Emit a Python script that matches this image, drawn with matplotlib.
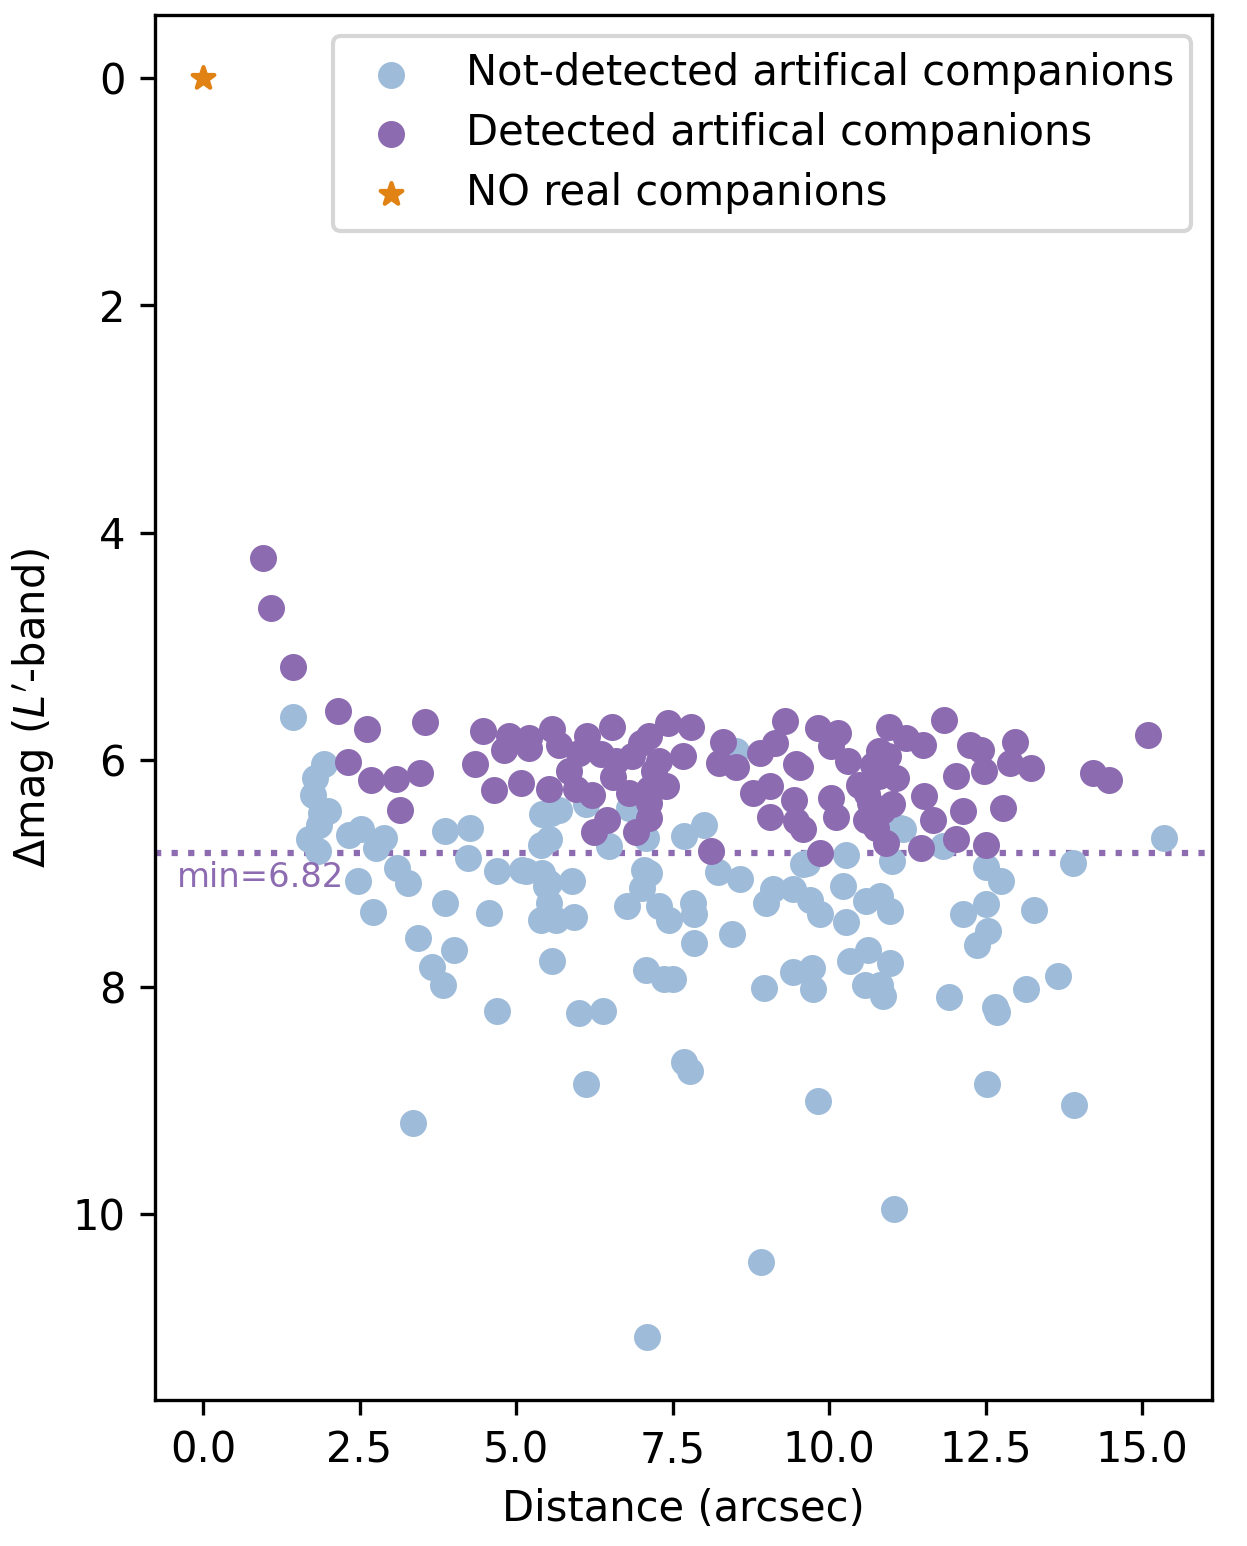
import matplotlib
matplotlib.use("Agg")
import matplotlib.pyplot as plt

# Not-detected artificial companions (distance arcsec, delta mag)
nd_x = [1.44, 1.93, 1.79, 1.75, 1.99, 1.88, 1.85, 1.69, 1.83, 2.33, 2.52, 2.89, 2.76, 2.47,
        3.10, 3.27, 2.72, 3.86, 4.27, 4.23, 3.87, 4.57, 4.70, 5.10, 5.42, 5.40, 5.48, 5.40,
        5.58, 3.43, 4.01, 3.65, 3.84, 4.70, 3.35, 5.56, 5.53, 5.42, 5.53, 5.90, 5.53, 5.64,
        5.92, 6.01, 6.39, 6.11, 6.49, 7.00, 7.13, 7.02, 6.78, 7.29, 7.45, 7.82, 7.85, 7.84,
        8.45, 7.69, 8.01, 8.22, 8.58, 7.08, 7.37, 7.50, 8.96, 7.68, 7.78, 9.82, 9.00, 9.10,
        9.42, 9.69, 9.85, 10.22, 10.27, 9.64, 10.27, 9.42, 9.72, 9.74, 10.33, 15.35, 13.90,
        11.01, 11.18, 11.82, 12.51, 12.75, 10.81, 10.97, 12.14, 12.51, 13.27, 12.54, 12.36,
        10.97, 10.81, 10.86, 11.91, 12.65, 12.68, 13.14, 13.66, 11.13, 12.53, 10.59, 9.58,
        10.63, 10.58, 13.91, 8.91, 7.09, 11.04, 8.52, 5.69, 6.12, 5.16, 7.08, 7.05, 6.81]
nd_y = [5.62, 6.04, 6.16, 6.31, 6.45, 6.47, 6.57, 6.70, 6.80, 6.66, 6.61, 6.69, 6.78, 7.07,
        6.95, 7.08, 7.34, 6.63, 6.60, 6.86, 7.26, 7.35, 6.98, 6.97, 6.48, 6.75, 7.11, 7.41,
        7.77, 7.57, 7.67, 7.82, 7.98, 8.21, 9.20, 6.47, 6.70, 7.00, 7.08, 7.07, 7.26, 7.41,
        7.38, 8.23, 8.21, 8.85, 6.76, 6.38, 7.00, 7.13, 7.29, 7.29, 7.41, 7.26, 7.36, 7.61,
        7.53, 6.67, 6.57, 6.99, 7.05, 7.85, 7.93, 7.93, 8.01, 8.66, 8.74, 9.00, 7.26, 7.14,
        7.14, 7.23, 7.36, 7.11, 7.43, 6.91, 6.84, 7.87, 7.83, 8.02, 7.77, 6.69, 6.91,
        6.89, 6.61, 6.76, 6.94, 7.07, 7.20, 7.33, 7.36, 7.27, 7.32, 7.51, 7.63,
        7.79, 7.98, 8.08, 8.09, 8.18, 8.22, 8.02, 7.90, 6.60, 8.85, 7.24, 6.92,
        7.67, 7.98, 9.04, 10.42, 11.08, 9.95, 5.92, 6.44, 6.39, 6.98, 6.69, 6.97, 6.42]

# Detected artificial companions
d_x = [0.96, 1.09, 1.44, 2.15, 2.62, 3.54, 2.31, 2.69, 3.09, 3.46, 3.15, 4.48, 4.35, 4.88,
       5.21, 5.58, 4.65, 5.08, 4.81, 5.21, 5.53, 5.69, 6.14, 6.54, 6.01, 5.96, 6.22, 6.60,
       6.81, 7.13, 7.40, 7.13, 7.42, 7.79, 7.66, 7.29, 6.86, 8.30, 8.25, 8.52, 8.78, 9.05,
       8.89, 9.13, 9.29, 9.47, 9.82, 10.03, 9.05, 9.47, 9.44, 10.03, 10.11, 6.46, 6.25,
       6.92, 7.13, 7.13, 8.12, 9.85, 10.14, 10.30, 9.53, 10.96, 11.23, 11.50, 10.80, 10.94,
       11.84, 12.25, 12.43, 12.97, 12.03, 12.48, 12.89, 13.23, 14.22, 14.48, 15.09, 10.48,
       10.80, 11.07, 10.65, 11.01, 11.52, 10.59, 11.66, 12.14, 12.78, 12.03, 10.91, 11.47,
       12.51, 9.58, 10.70, 10.60, 10.85, 10.75, 7.00, 7.20, 6.35, 6.55, 5.85]
d_y = [4.22, 4.66, 5.18, 5.57, 5.73, 5.67, 6.02, 6.18, 6.17, 6.12, 6.44, 5.75, 6.04, 5.79,
       5.81, 5.73, 6.27, 6.20, 5.91, 5.90, 6.26, 5.87, 5.79, 5.71, 5.94, 6.26, 6.31, 6.01,
       6.29, 6.26, 6.23, 5.79, 5.68, 5.71, 5.97, 6.01, 5.97, 5.84, 6.03, 6.06, 6.29, 6.23,
       5.94, 5.85, 5.66, 6.04, 5.72, 5.88, 6.50, 6.54, 6.35, 6.34, 6.50, 6.53, 6.64,
       6.64, 6.51, 6.38, 6.80, 6.82, 5.76, 6.01, 6.06, 5.71, 5.81, 5.87, 5.92, 5.97,
       5.65, 5.87, 5.91, 5.84, 6.14, 6.10, 6.03, 6.07, 6.12, 6.18, 5.78, 6.22,
       6.14, 6.16, 6.38, 6.39, 6.32, 6.53, 6.53, 6.45, 6.42, 6.70, 6.73, 6.78,
       6.75, 6.61, 6.05, 6.30, 6.45, 6.60, 5.85, 6.10, 5.95, 6.15, 6.10]

# Real companions (none) -> star at origin
real_x = [0.0]
real_y = [0.0]

min_detected = 6.82

c_nd = '#9ebcda'
c_d = '#8c6bb1'
c_star = '#e08214'

fig = plt.figure(figsize=(1247 / 300, 1546 / 300), dpi=300)
ax = fig.add_axes([155 / 1247, 1 - 1400 / 1546, (1212 - 155) / 1247, (1400 - 15) / 1546])

ax.scatter(nd_x, nd_y, s=30, color=c_nd, label='Not-detected artifical companions', zorder=2)
ax.scatter(d_x, d_y, s=30, color=c_d, label='Detected artifical companions', zorder=3)
ax.scatter(real_x, real_y, s=30, marker='*', color=c_star, label='NO real companions', zorder=4)

ax.axhline(min_detected, color=c_d, linestyle=':', linewidth=1.5, zorder=1)
ax.text(-0.42, 7.12, 'min=%.2f' % min_detected, color=c_d, fontsize=8.1, ha='left', va='baseline')

ax.invert_yaxis()
ax.set_xlabel('Distance (arcsec)')
ax.set_ylabel(r"$\Delta$mag ($L^\prime$-band)")
ax.legend(loc='upper right', scatterpoints=1, labelspacing=0.43)

fig.savefig('out.png', dpi=300)
